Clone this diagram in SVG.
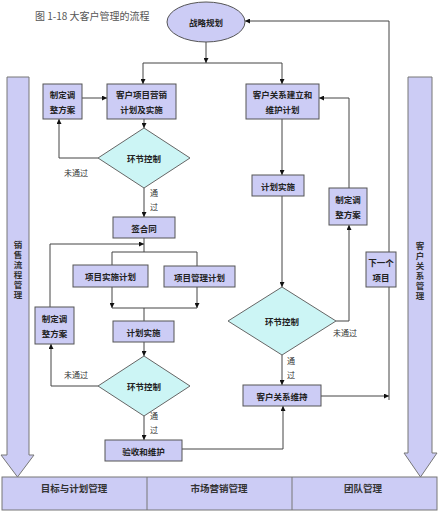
<svg xmlns="http://www.w3.org/2000/svg" width="439" height="512" viewBox="0 0 439 512">
<style>
.box{fill:#ccccf5;stroke:#555;stroke-width:1}
.dia{fill:#ccf5f5;stroke:#666;stroke-width:1}
.big{fill:#ccccf5;stroke:#777;stroke-width:1}
.t{font-family:"Noto Sans CJK SC","Noto Sans",sans-serif;font-size:8.5px;font-weight:bold;fill:#222;text-anchor:middle;dominant-baseline:central}
.s{font-family:"Noto Sans CJK SC","Noto Sans",sans-serif;font-size:8px;fill:#333;dominant-baseline:central}
.b{font-family:"Noto Sans CJK SC","Noto Sans",sans-serif;font-size:9.5px;font-weight:bold;fill:#333;text-anchor:middle;dominant-baseline:central}
.v{font-family:"Noto Sans CJK SC","Noto Sans",sans-serif;font-size:8.5px;font-weight:bold;fill:#333;writing-mode:vertical-rl;text-orientation:upright;letter-spacing:1.5px}
.c path{fill:none;stroke:#444;stroke-width:1}
</style>
<defs>
<marker id="ar" viewBox="0 0 10 10" refX="10" refY="5" markerWidth="5" markerHeight="5" orient="auto" markerUnits="userSpaceOnUse">
<path d="M0,0 L10,5 L0,10 z" fill="#111"/>
</marker>
</defs>
<rect width="439" height="512" fill="#fff"/>
<text x="35" y="15" style="font-family:'Noto Sans CJK SC','Noto Sans',sans-serif;font-size:10px;fill:#555;dominant-baseline:central">图 1-18 大客户管理的流程</text>

<g id="side-left">
<polygon class="big" points="7,77 29,77 29,455 34,455 17.5,477 1,455 7,455"/>
<text class="v" x="18" y="241">销售流程管理</text>
</g>
<g id="side-right">
<polygon class="big" points="408,77 432,77 432,453 437,453 420.5,477 404,453 408,453"/>
<text class="v" x="420" y="242">客户关系管理</text>
</g>
<g id="bottom-bar">
<rect class="big" x="2" y="477" width="435" height="33"/>
<line x1="147" y1="477" x2="147" y2="510" stroke="#777"/>
<line x1="292" y1="477" x2="292" y2="510" stroke="#777"/>
<text class="b" x="74" y="488">目标与计划管理</text>
<text class="b" x="219" y="488">市场营销管理</text>
<text class="b" x="363" y="488">团队管理</text>
</g>

<g class="c" id="connectors">
<path d="M206,42 V63" marker-end="url(#ar)"/>
<path d="M143,63 H282"/>
<path d="M143,63 V84" marker-end="url(#ar)"/>
<path d="M282,63 V84" marker-end="url(#ar)"/>
<path d="M82,98 H107" marker-end="url(#ar)"/>
<path d="M144,119 V128" marker-end="url(#ar)"/>
<path d="M98,158 H59 V119" marker-end="url(#ar)"/>
<path d="M144,188 V217" marker-end="url(#ar)"/>
<path d="M144,238 V252 M112,252 H197 M112,252 V265 M197,252 V266"/>
<path d="M50,307 V244 H144" marker-end="url(#ar)"/>
<path d="M112,287 V308" marker-end="url(#ar)"/>
<path d="M197,287 V308" marker-end="url(#ar)"/>
<path d="M112,308 H197 M144,308 V321"/>
<path d="M144,342 V356" marker-end="url(#ar)"/>
<path d="M98,386 H51 V344" marker-end="url(#ar)"/>
<path d="M144,416 V440" marker-end="url(#ar)"/>
<path d="M182,449 H283 V406" marker-end="url(#ar)"/>
<path d="M321,396 H389" marker-end="url(#ar)"/>
<path d="M389,400 V21 H245" marker-end="url(#ar)"/>
<path d="M282,119 V175" marker-end="url(#ar)"/>
<path d="M282,196 V287" marker-end="url(#ar)"/>
<path d="M336,321 H349 V225" marker-end="url(#ar)"/>
<path d="M349,188 V98 H319" marker-end="url(#ar)"/>
<path d="M282,355 V385" marker-end="url(#ar)"/>
</g>

<g id="start">
<ellipse class="box" cx="206" cy="22" rx="39" ry="20"/>
<text class="t" x="206" y="22">战略规划</text>
</g>
<g id="adjust1">
<rect class="box" x="43" y="84" width="39" height="35"/>
<text class="t" x="62.5" y="94">制定调</text>
<text class="t" x="62.5" y="109">整方案</text>
</g>
<g id="marketing">
<rect class="box" x="107" y="84" width="69" height="35"/>
<text class="t" x="141.5" y="94">客户项目营销</text>
<text class="t" x="141.5" y="109">计划及实施</text>
</g>
<g id="relation-plan">
<rect class="box" x="246" y="84" width="73" height="35"/>
<text class="t" x="282.5" y="94">客户关系建立和</text>
<text class="t" x="282.5" y="109">维护计划</text>
</g>
<g id="control1">
<polygon class="dia" points="144,128 190,158 144,188 98,158"/>
<text class="t" x="144" y="158">环节控制</text>
<text class="s" x="64" y="172">未通过</text>
<text class="s" x="150" y="192">通</text>
<text class="s" x="150" y="206">过</text>
</g>
<g id="contract">
<rect class="box" x="113" y="217" width="62" height="21"/>
<text class="t" x="144" y="227.5">签合同</text>
</g>
<g id="impl-plan">
<rect class="box" x="73" y="265" width="75" height="22"/>
<text class="t" x="110.5" y="276">项目实施计划</text>
</g>
<g id="mgmt-plan">
<rect class="box" x="164" y="266" width="71" height="21"/>
<text class="t" x="199.5" y="276.5">项目管理计划</text>
</g>
<g id="adjust2">
<rect class="box" x="35" y="307" width="39" height="37"/>
<text class="t" x="54.5" y="318">制定调</text>
<text class="t" x="54.5" y="333">整方案</text>
</g>
<g id="execute1">
<rect class="box" x="113" y="321" width="61" height="21"/>
<text class="t" x="143.5" y="331.5">计划实施</text>
</g>
<g id="control2">
<polygon class="dia" points="144,356 190,386 144,416 98,386"/>
<text class="t" x="144" y="386">环节控制</text>
<text class="s" x="64" y="374">未通过</text>
<text class="s" x="150" y="415">通</text>
<text class="s" x="150" y="429">过</text>
</g>
<g id="acceptance">
<rect class="box" x="105" y="440" width="77" height="21"/>
<text class="t" x="143.5" y="450.5">验收和维护</text>
</g>
<g id="execute2">
<rect class="box" x="252" y="175" width="52" height="21"/>
<text class="t" x="278" y="185.5">计划实施</text>
</g>
<g id="adjust3">
<rect class="box" x="329" y="188" width="38" height="37"/>
<text class="t" x="348" y="199">制定调</text>
<text class="t" x="348" y="214">整方案</text>
</g>
<g id="control3">
<polygon class="dia" points="282,287 336,321 282,355 228,321"/>
<text class="t" x="282" y="321">环节控制</text>
<text class="s" x="333" y="332">未通过</text>
<text class="s" x="287" y="360">通</text>
<text class="s" x="287" y="374">过</text>
</g>
<g id="next-project">
<rect class="box" x="366" y="252" width="30" height="35"/>
<text class="t" x="381" y="262">下一个</text>
<text class="t" x="381" y="277">项目</text>
</g>
<g id="maintain">
<rect class="box" x="243" y="385" width="78" height="21"/>
<text class="t" x="282" y="395.5">客户关系维持</text>
</g>
</svg>
